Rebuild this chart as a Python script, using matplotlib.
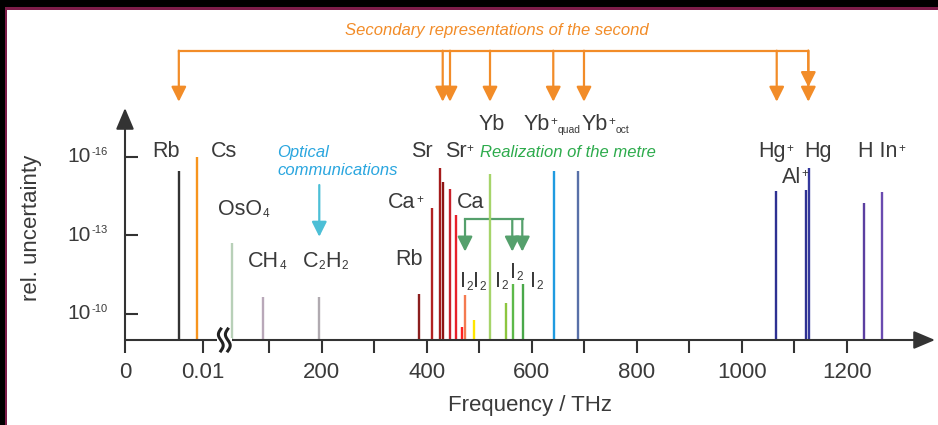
import numpy as np
import matplotlib
matplotlib.use('Agg')
import matplotlib.pyplot as plt
import matplotlib.transforms as mtransforms
from matplotlib.patches import Rectangle
from matplotlib.ticker import FixedLocator, FixedFormatter, NullLocator, NullFormatter

plt.rcParams['font.family'] = ['Liberation Sans', 'DejaVu Sans']

# ---------------------------------------------------------------------------
# Data: frequency (THz) and relative uncertainty of each standard
# ---------------------------------------------------------------------------
line_freq = [0.0069, 0.0092, 29.7, 88.8, 195.5,
             385.9, 410.7, 424.8, 430.5, 444.4, 455.8,
             467.8, 473.0, 490.0, 520.6, 551.0, 563.8, 582.9,
             641.9, 688.8, 1065.3, 1122.5, 1128.2, 1233.5, 1267.8]
line_unc = [3.4e-16, 1.0e-16, 2.0e-13, 2.3e-11, 2.2e-11,
            1.7e-11, 9.5e-15, 2.7e-16, 9.5e-16, 1.7e-15, 1.7e-14,
            3.2e-10, 1.9e-11, 1.7e-10, 4.5e-16, 3.8e-11, 7.0e-12, 7.0e-12,
            3.7e-16, 3.5e-16, 2.1e-15, 1.9e-15, 2.7e-16, 5.9e-15, 2.3e-15]
line_color = ['#333333', '#f7941d', '#b8d0b8', '#b9a8b9', '#b0aab0',
              '#8b1e1e', '#b22222', '#a51c1c', '#8e1414', '#c8202a', '#e8202a',
              '#ff2020', '#f47a50', '#ffe600', '#a6d46a', '#8cc63f', '#5db94a', '#4aa84a',
              '#1f9be0', '#5870a8', '#2e3192', '#2e3192', '#34389c', '#5b3fa0', '#6a4bb0']

# arrows: secondary representations of the second / realization of the metre
second_freq = [0.0069, 430.5, 444.4, 520.6, 641.1, 699.6, 1066.7, 1126.9]
metre_freq = [473.0, 563.0, 582.1]
optical_freq = 195.4

tick_freq = [0, 0.01, 100, 200, 300, 400, 500, 600, 700, 800, 900, 1000, 1100, 1200]
tick_text = ['0', '0.01', '', '200', '', '400', '', '600', '', '800', '', '1000', '', '1200']
ytick_vals = [1e-16, 1e-13, 1e-10]
ytick_exp = ['-16', '-13', '-10']

# labels: pieces (text, n=normal / p=superscript / b=subscript), frequency, baseline (axes fraction)
labels = [
    ([('Rb', 'n')], 0.00343, 0.789),
    ([('Cs', 'n')], 0.01104, 0.789),
    ([('OsO', 'n'), ('4', 'b')], 0.01196, 0.539),
    ([('CH', 'n'), ('4', 'b')], 60.2, 0.316),
    ([('C', 'n'), ('2', 'b'), ('H', 'n'), ('2', 'b')], 164.4, 0.316),
    ([('Rb', 'n')], 339.6, 0.323),
    ([('Ca', 'n'), ('+', 'p')], 326.9, 0.567),
    ([('Sr', 'n')], 369.5, 0.789),
    ([('Sr', 'n'), ('+', 'p')], 434.9, 0.789),
    ([('Ca', 'n')], 457.1, 0.569),
    ([('Yb', 'n')], 498.3, 0.905),
    ([('Yb', 'n'), ('+', 'p'), ('quad', 'b')], 585.0, 0.905),
    ([('Yb', 'n'), ('+', 'p'), ('oct', 'b')], 695.5, 0.905),
    ([('Hg', 'n'), ('+', 'p')], 1031.6, 0.789),
    ([('Hg', 'n')], 1118.7, 0.789),
    ([('Al', 'n'), ('+', 'p')], 1076.2, 0.678),
    ([('H In', 'n'), ('+', 'p')], 1222.1, 0.789),
    ([('I', 'n'), ('2', 'b'), ('I', 'n'), ('2', 'b')], 463.4, 0.227),
    ([('I', 'n'), ('2', 'b')], 530.1, 0.229),
    ([('I', 'n'), ('2', 'b')], 558.7, 0.267),
    ([('I', 'n'), ('2', 'b')], 596.8, 0.229),
]

TXT = '#3a3a3a'
ORANGE = '#f28c28'
GREEN_TXT = '#2dab4c'
GREEN_ARR = '#55a06c'
BLUE_TXT = '#2aa6df'
BLUE_ARR = '#4cbfd6'

# ---------------------------------------------------------------------------
# broken frequency axis: microwave part stretched, then linear THz part
# ---------------------------------------------------------------------------
F1, F2 = 0.0129, 21.5
U1, U2 = F1 * 7800, 91.7 + 0.525 * F2


def fwd(f):
    f = np.asarray(f, dtype=float)
    mid = U1 + (f - F1) * (U2 - U1) / (F2 - F1)
    return np.where(f <= F1, f * 7800, np.where(f < F2, mid, 91.7 + 0.525 * f))


def inv(u):
    u = np.asarray(u, dtype=float)
    mid = F1 + (u - U1) * (F2 - F1) / (U2 - U1)
    return np.where(u <= U1, u / 7800, np.where(u < U2, mid, (u - 91.7) / 0.525))


fig = plt.figure(figsize=(9.38, 4.25), dpi=100)
ax = fig.add_axes([125 / 938, 85 / 425, 810 / 938, 232 / 425])
ax.set_xscale('function', functions=(fwd, inv))
ax.set_yscale('log')
ax.set_xlim(0, 1368.2)
ax.set_ylim(1e-9, 10 ** -17.855)

ax.vlines(line_freq, 1e-9, line_unc, colors=line_color, lw=1.7, zorder=3)

for s in ax.spines.values():
    s.set_visible(False)

ax.xaxis.set_major_locator(FixedLocator(tick_freq))
ax.xaxis.set_major_formatter(FixedFormatter(tick_text))
ax.xaxis.set_minor_locator(NullLocator())
ax.yaxis.set_major_locator(FixedLocator(ytick_vals))
ax.yaxis.set_major_formatter(NullFormatter())
ax.yaxis.set_minor_locator(NullLocator())
ax.tick_params(axis='x', direction='out', length=9.5, width=1.5, color='#333333',
               labelsize=16, labelcolor=TXT, pad=6)
ax.tick_params(axis='y', direction='in', length=9.5, width=1.5, color='#333333')

SMALL = 8.5


def rich_text(anchor, parts, fs, color, small=SMALL, sup_dy=-1.2):
    """Chain text pieces after an anchor text: normal, superscript, subscript."""
    prev = last = anchor
    for s, kind in parts:
        if kind == 'n':
            a = ax.annotate(s, xy=(1, 0), xycoords=(prev, last), xytext=(0, 0),
                            textcoords='offset points', ha='left', va='bottom',
                            fontsize=fs, color=color, annotation_clip=False)
            last = a
        elif kind == 'p':
            a = ax.annotate(s, xy=(1, 1), xycoords=(prev, last), xytext=(0.2, sup_dy),
                            textcoords='offset points', ha='left', va='top',
                            fontsize=small, color=color, annotation_clip=False)
        else:
            sz = small - 1 if len(s) > 2 else small
            a = ax.annotate(s, xy=(1, 0), xycoords=(prev, last), xytext=(0.3, -0.3),
                            textcoords='offset points', ha='left', va='bottom',
                            fontsize=sz, color=color, annotation_clip=False)
        prev = a


# y tick labels: 10 with small exponent
for v, e in zip(ytick_vals, ytick_exp):
    ten = ax.annotate('10', xy=(0, v), xycoords=ax.get_yaxis_transform(),
                      xytext=(-24.5, 0), textcoords='offset points', ha='right',
                      va='center', fontsize=15, color=TXT, annotation_clip=False)
    rich_text(ten, [(e, 'p')], 15, TXT, small=8, sup_dy=0.3)

# axis lines with arrow heads
axis_arrow = dict(arrowstyle='-|>,head_length=1.3,head_width=0.55', color='#333333',
                  lw=1.5, shrinkA=0, shrinkB=0, mutation_scale=10)
ax.annotate('', xy=(0, 1), xytext=(0, 0), xycoords='axes fraction',
            arrowprops=axis_arrow, annotation_clip=False)
ax.annotate('', xy=(1, 0), xytext=(0, 0), xycoords='axes fraction',
            arrowprops=axis_arrow, annotation_clip=False)

# axis break
fig.canvas.draw()
bx, by = ax.transData.transform((0.01273, 1e-9))
ax.add_patch(Rectangle((bx - 7.5, by - 2), 15, 4, transform=mtransforms.IdentityTransform(),
                       facecolor='white', edgecolor='none', zorder=5, clip_on=False))
t = np.linspace(0, 1, 40)
for dx in (-3.5, 3.5):
    ax.plot(bx + dx + 2.4 * np.sin(2 * np.pi * t), by - 11 + 22 * t, color='#222222', lw=2.2,
            transform=mtransforms.IdentityTransform(), clip_on=False, zorder=6)

# bracket helpers: x in data, y in axes fraction
trans = mtransforms.blended_transform_factory(ax.transData, ax.transAxes)


def down_arrow(x, y0, y1, color, hl=0.9, hw=0.45):
    ax.annotate('', xy=(x, y1), xytext=(x, y0), xycoords=trans, textcoords=trans,
                arrowprops=dict(arrowstyle=f'-|>,head_length={hl},head_width={hw}',
                                color=color, lw=1.6, shrinkA=0, shrinkB=0,
                                mutation_scale=10),
                annotation_clip=False)


# secondary representations of the second
ax.plot([second_freq[0], second_freq[-1]], [1.247, 1.247], color=ORANGE, lw=1.6,
        transform=trans, clip_on=False)
for f in second_freq:
    down_arrow(f, 1.247, 1.027, ORANGE)
down_arrow(second_freq[-1], 1.247, 1.09, ORANGE)
ax.text(534, 1.315, 'Secondary representations of the second', transform=trans,
        ha='center', va='baseline', fontsize=12, style='italic', color=ORANGE)

# realization of the metre
ax.plot([metre_freq[0], metre_freq[-1] + 2], [0.520, 0.520], color=GREEN_ARR, lw=1.6,
        transform=trans, clip_on=False)
for f in metre_freq:
    down_arrow(f, 0.520, 0.381, GREEN_ARR)
ax.text(501.5, 0.789, 'Realization of the metre', transform=trans, ha='left',
        va='baseline', fontsize=12, style='italic', color=GREEN_TXT)

# optical communications
down_arrow(optical_freq, 0.668, 0.445, BLUE_ARR)
ax.text(115.4, 0.790, 'Optical', transform=trans, ha='left', va='baseline',
        fontsize=12, style='italic', color=BLUE_TXT)
ax.text(115.4, 0.711, 'communications', transform=trans, ha='left', va='baseline',
        fontsize=12, style='italic', color=BLUE_TXT)

for parts, f, y in labels:
    base = ax.text(f, y, parts[0][0], transform=trans, ha='left', va='baseline',
                   fontsize=15.5, color=TXT)
    rich_text(base, parts[1:], 15.5, TXT)

ax.set_xlabel('Frequency / THz', fontsize=16, color=TXT, labelpad=9)
ax.text(-0.116, 0.483, 'rel. uncertainty', transform=ax.transAxes, rotation=90,
        ha='center', va='center', fontsize=16, color=TXT)

# dark frame at top and left edges
fig.add_artist(Rectangle((0, 1 - 7 / 425), 1, 7 / 425, transform=fig.transFigure,
                         facecolor='black', edgecolor='none'))
fig.add_artist(Rectangle((0, 1 - 10 / 425), 1, 3 / 425, transform=fig.transFigure,
                         facecolor='#7d1d4a', edgecolor='none'))
fig.add_artist(Rectangle((0, 0), 4.5 / 938, 1, transform=fig.transFigure,
                         facecolor='black', edgecolor='none'))
fig.add_artist(Rectangle((4.5 / 938, 0), 2.8 / 938, 1 - 7 / 425, transform=fig.transFigure,
                         facecolor='#7d1d4a', edgecolor='none'))

fig.savefig('out.png', dpi=100)
